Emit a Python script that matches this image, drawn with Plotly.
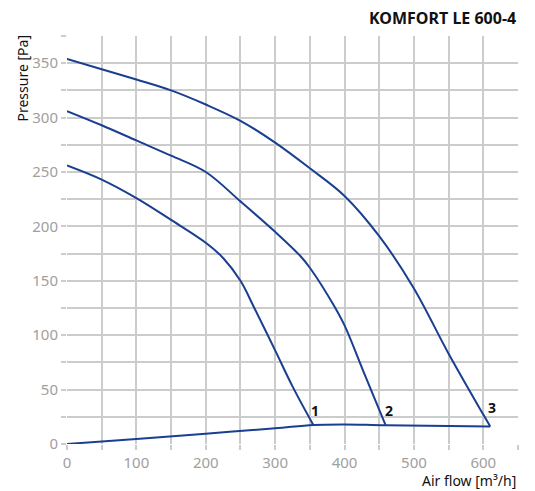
import plotly.graph_objects as go

# fan curves (air flow m3/h -> pressure Pa)
curve1_x = [0, 50, 100, 150, 200, 225, 250, 270, 300, 325, 355]
curve1_y = [256, 243, 226, 206, 185, 171, 150, 125, 86, 53, 17.5]

curve2_x = [0, 50, 100, 150, 200, 250, 300, 336, 350, 384, 400, 427, 459]
curve2_y = [306, 293, 279, 265, 250, 223, 195, 173, 162, 128, 109, 67, 17.5]

curve3_x = [0, 50, 100, 150, 200, 250, 300, 350, 400, 450, 500, 550, 600, 610]
curve3_y = [354, 344.5, 335, 325, 312, 297, 277, 253.4, 228, 191, 143, 83, 27, 16]

# system curve
system_x = [0, 100, 200, 300, 355, 400, 459, 610]
system_y = [0, 4.6, 9.5, 14.4, 17.5, 18, 17.2, 16]

labels = ["1", "2", "3"]
label_x = [357, 464, 613]
label_y = [31, 31, 34]

blue = "#1a3f91"
grid = "#cccccc"
font = "Noto Sans"

fig = go.Figure()
for xs, ys in [(curve1_x, curve1_y), (curve2_x, curve2_y),
               (curve3_x, curve3_y), (system_x, system_y)]:
    fig.add_trace(go.Scatter(x=xs, y=ys, mode="lines",
                             line=dict(color=blue, width=2, shape="spline", smoothing=1.0),
                             showlegend=False, hoverinfo="skip"))

for t, lx, ly in zip(labels, label_x, label_y):
    fig.add_annotation(x=lx, y=ly, text="<b>%s</b>" % t, showarrow=False,
                       font=dict(family=font, size=14, color="#111111"))

xt = list(range(0, 651, 50))
yt = list(range(0, 376, 25))

fig.update_xaxes(range=[0, 650], tickvals=xt,
                 ticktext=[str(v) if v % 100 == 0 and v <= 600 else "" for v in xt],
                 showgrid=True, gridcolor=grid, gridwidth=1.5,
                 ticks="outside", ticklen=5, tickcolor=grid, tickwidth=1.5,
                 showline=False, zeroline=False,
                 tickfont=dict(family=font, size=15, color="#a0a0a0"))
fig.update_yaxes(range=[0, 375], tickvals=yt,
                 ticktext=[str(v) if v % 50 == 0 else "" for v in yt],
                 showgrid=True, gridcolor=grid, gridwidth=1.5,
                 ticks="outside", ticklen=5, tickcolor=grid, tickwidth=1.5,
                 showline=False, zeroline=False,
                 tickfont=dict(family=font, size=15, color="#a0a0a0"))

fig.add_annotation(xref="paper", yref="paper", x=1.0, y=1.0, yshift=18,
                   xanchor="right", yanchor="middle",
                   text="<b>KOMFORT LE 600-4</b>", showarrow=False,
                   font=dict(family=font, size=16, color="#111111"))
fig.add_annotation(xref="paper", yref="paper", x=1.0, y=0, yshift=-36,
                   xanchor="right", yanchor="middle",
                   text="Air flow [m³/h]", showarrow=False,
                   font=dict(family=font, size=14, color="#111111"))
fig.add_annotation(xref="paper", yref="paper", x=0, xshift=-45, y=1.0, yshift=3,
                   xanchor="center", yanchor="top", textangle=-90,
                   text="Pressure [Pa]", showarrow=False,
                   font=dict(family=font, size=14, color="#111111"))

# the page body adds an 8px margin, so the figure is 8px smaller to fit the window
fig.update_layout(width=527, height=483,
                  margin=dict(l=59, r=17, t=28, b=47),
                  plot_bgcolor="white", paper_bgcolor="white")

fig.write_html("out.html")
